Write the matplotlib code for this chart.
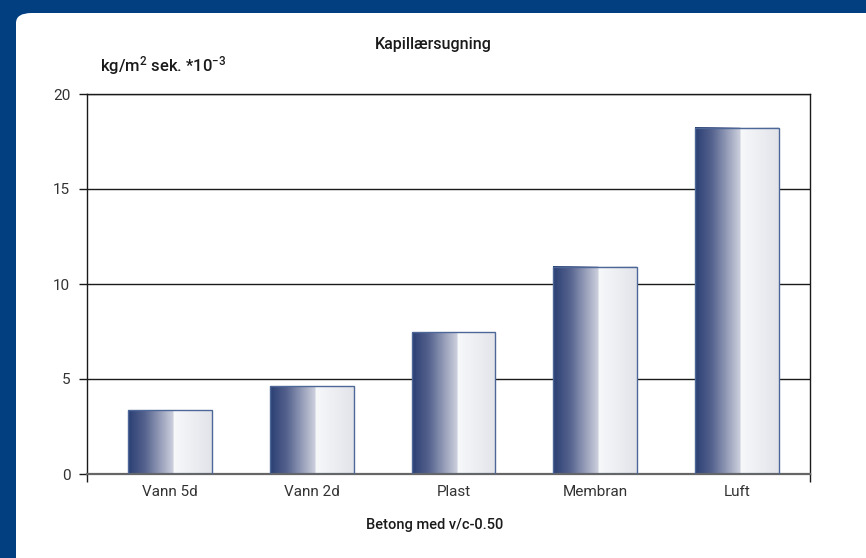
import matplotlib.pyplot as plt
import numpy as np
from matplotlib.colors import LinearSegmentedColormap
from matplotlib.patches import FancyBboxPatch

# Data
kategorier = ["Vann 5d", "Vann 2d", "Plast", "Membran", "Luft"]
verdier = [3.35, 4.63, 7.45, 10.92, 18.22]
y_ticks = [0, 5, 10, 15, 20]

plt.rcParams['font.family'] = ['Roboto', 'DejaVu Sans']
plt.rcParams['mathtext.default'] = 'regular'

fig = plt.figure(figsize=(8.66, 5.58), dpi=100)
fig.patch.set_facecolor('#023f80')

# hvit panel med avrundet hjørne
panel = FancyBboxPatch((16 / 866, -0.1), 1.2, 1 - 13 / 558 + 0.1,
                       boxstyle="round,pad=0,rounding_size=0.018",
                       transform=fig.transFigure, facecolor='white',
                       edgecolor='none', zorder=-5)
fig.patches.append(panel)

ax = fig.add_axes([87 / 866, 1 - 474 / 558, (810 - 87) / 866, (474 - 94) / 558])
ax.set_facecolor('white')

x = np.arange(len(kategorier))
bredde = 0.59
xlim = (-0.586, 4.515)

# gradient for stolpene
cmap = LinearSegmentedColormap.from_list('stolpe', [
    (0.0, '#2a3f73'), (0.2, '#55628e'), (0.54, '#cdd0dd'),
    (0.545, '#f7f8fa'), (1.0, '#e2e4ea')])
grad = np.linspace(0, 1, 256).reshape(1, -1)

bars = ax.bar(x, verdier, width=bredde, facecolor='none',
              edgecolor='#4d6898', linewidth=1.0, zorder=3)
for b in bars:
    x0, y0 = b.get_x(), b.get_y()
    w, h = b.get_width(), b.get_height()
    ax.imshow(grad, cmap=cmap, aspect='auto', extent=(x0, x0 + w, y0, y0 + h),
              zorder=2, interpolation='bilinear')

ax.set_xlim(*xlim)
ax.set_ylim(0, 20)
ax.set_yticks(y_ticks)
ax.set_xticks(x)
ax.set_xticklabels(kategorier)
ax.set_xticks(list(xlim), minor=True)

ax.yaxis.grid(True, color='#1a1a1a', linewidth=1.0, zorder=1)
ax.set_axisbelow(True)

ax.tick_params(axis='y', length=6, width=1, color='#1a1a1a', pad=6,
               labelsize=11, labelcolor='#333333')
ax.tick_params(axis='x', which='major', length=0, pad=8,
               labelsize=11, labelcolor='#333333')
ax.tick_params(axis='x', which='minor', length=6, width=1, color='#1a1a1a')

for side in ['left', 'right', 'top']:
    ax.spines[side].set_color('#1a1a1a')
    ax.spines[side].set_linewidth(1.0)
ax.spines['bottom'].set_color('#666666')
ax.spines['bottom'].set_linewidth(1.6)

fig.text(0.5, 1 - 45 / 558, "Kapillærsugning", ha='center', va='center',
         fontsize=11.5, color='#1a1a1a', fontweight='medium')
fig.text(100 / 866, 1 - 66 / 558, r"kg/m$^{2}$ sek. *10$^{-3}$", ha='left',
         va='center', fontsize=12, color='#1a1a1a', fontweight='medium')
fig.text(0.502, 1 - 525 / 558, "Betong med v/c-0.50", ha='center', va='center',
         fontsize=10.5, color='#1a1a1a', fontweight='medium')

plt.savefig('out.png', dpi=100, facecolor=fig.get_facecolor())
